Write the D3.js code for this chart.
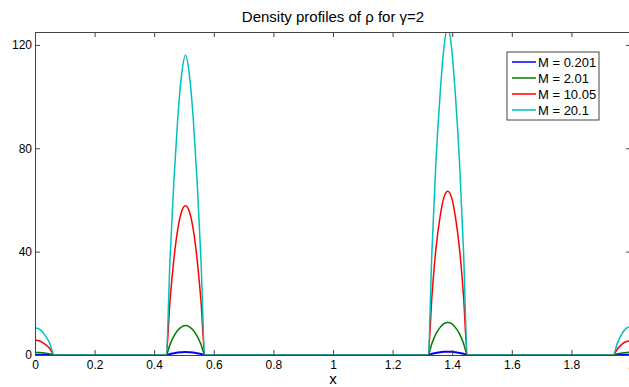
<!DOCTYPE html>
<html>
<head>
<meta charset="utf-8">
<script src="https://cdn.jsdelivr.net/npm/d3@7"></script>
<style>
  body { margin: 0; background: #fff; }
  svg { font-family: "Liberation Sans", Arial, Helvetica, sans-serif; }
</style>
</head>
<body>
<div id="vis"></div>
<script>

// sample positions along x (edge bump, two peaks, wrap-around bump)
var xs = [
  0, 0.016, 0.032, 0.048, 0.065,
  0.44, 0.453, 0.466, 0.479, 0.492, 0.505, 0.518, 0.531, 0.544, 0.557, 0.57,
  1.319, 1.332, 1.345, 1.359, 1.372, 1.385, 1.398, 1.411, 1.425, 1.438, 1.451,
  1.94, 1.955, 1.97, 1.985, 2.0
];

var rhoM0201 = [
  0.1, 0.1, 0.08, 0.05, 0,
  0, 0.4, 0.7, 1.0, 1.1, 1.15, 1.1, 1.0, 0.7, 0.4, 0,
  0, 0.5, 0.8, 1.1, 1.25, 1.3, 1.25, 1.1, 0.8, 0.5, 0,
  0, 0.05, 0.08, 0.1, 0.11
];
var rhoM201 = [
  1.1, 1.0, 0.8, 0.5, 0,
  0, 4.1, 7.3, 9.6, 10.9, 11.4, 10.9, 9.6, 7.3, 4.1, 0,
  0, 4.5, 8.1, 10.6, 12.1, 12.6, 12.1, 10.6, 8.1, 4.5, 0,
  0, 0.5, 0.8, 1.0, 1.1
];
var rhoM1005 = [
  5.8, 5.4, 4.3, 2.7, 0,
  0, 20.8, 37, 48.6, 55.5, 57.8, 55.5, 48.6, 37, 20.8, 0,
  0, 22.8, 40.6, 53.3, 60.9, 63.4, 60.9, 53.3, 40.6, 22.8, 0,
  0, 2.4, 4.2, 5.2, 5.5
];
var rhoM201b = [
  10.6, 9.9, 7.9, 4.9, 0,
  0, 36.7, 67.3, 91.5, 108.5, 116, 108.5, 91.5, 67.3, 36.7, 0,
  0, 40.1, 73.7, 100.2, 118.7, 127, 118.7, 100.2, 73.7, 40.1, 0,
  0, 4.8, 8.3, 10.4, 11.0
];

var seriesNames = ['M = 0.201', 'M = 2.01', 'M = 10.05', 'M = 20.1'];
var seriesValues = [rhoM0201, rhoM201, rhoM1005, rhoM201b];
var seriesColors = ['#0000ff', '#007f00', '#ff0000', '#00bfbf'];

var xTicks = [0, 0.2, 0.4, 0.6, 0.8, 1, 1.2, 1.4, 1.6, 1.8, 2];
var yTicks = [0, 40, 80, 120];

var width = 629;
var height = 387;
var margin = { top: 32, left: 35 };
var plotW = 596;
var plotH = 323;

var svg = d3.select('#vis')
  .append('svg')
  .attr('width', width)
  .attr('height', height);

var x = d3.scaleLinear().domain([0, 2]).range([0, plotW]);
var y = d3.scaleLinear().domain([0, 125]).range([plotH, 0]);

var g = svg.append('g')
  .attr('transform', 'translate(' + margin.left + ',' + margin.top + ')');

g.append('clipPath')
  .attr('id', 'clip')
  .append('rect')
  .attr('x', 0)
  .attr('y', 0)
  .attr('width', plotW)
  .attr('height', plotH);

var line = d3.line()
  .x(function (d) { return x(d[0]); })
  .y(function (d) { return y(d[1]); })
  .curve(d3.curveMonotoneX);

var lines = g.append('g').attr('clip-path', 'url(#clip)');

seriesValues.forEach(function (vals, i) {
  var pts = xs.map(function (xv, j) { return [xv, vals[j]]; });
  lines.append('path')
    .attr('d', line(pts))
    .attr('fill', 'none')
    .attr('stroke', seriesColors[i])
    .attr('stroke-width', i === 0 ? 2 : 1.5);
});

function styleAxis(sel) {
  sel.selectAll('path, line').attr('stroke', '#444');
  sel.selectAll('text').attr('fill', '#000').style('font-size', '12px');
}

g.append('g')
  .attr('transform', 'translate(0,' + plotH + ')')
  .call(d3.axisBottom(x).tickValues(xTicks).tickFormat(d3.format('')).tickSizeInner(-5).tickSizeOuter(0).tickPadding(5))
  .call(styleAxis);

g.append('g')
  .call(d3.axisTop(x).tickValues(xTicks).tickFormat('').tickSizeInner(-5).tickSizeOuter(0))
  .call(styleAxis);

g.append('g')
  .call(d3.axisLeft(y).tickValues(yTicks).tickSizeInner(-5).tickSizeOuter(0).tickPadding(3))
  .call(styleAxis);

g.append('g')
  .attr('transform', 'translate(' + plotW + ',0)')
  .call(d3.axisRight(y).tickValues(yTicks).tickFormat('').tickSizeInner(-5).tickSizeOuter(0))
  .call(styleAxis);

svg.append('text')
  .attr('x', margin.left + plotW / 2)
  .attr('y', 22)
  .attr('text-anchor', 'middle')
  .style('font-size', '15px')
  .text('Density profiles of \u03c1 for \u03b3=2');

svg.append('text')
  .attr('x', margin.left + plotW / 2)
  .attr('y', 384)
  .attr('text-anchor', 'middle')
  .style('font-size', '15px')
  .text('x');

// legend
var legend = svg.append('g').attr('transform', 'translate(507,52)');

legend.append('rect')
  .attr('width', 92)
  .attr('height', 68)
  .attr('fill', '#fff')
  .attr('stroke', '#444');

seriesNames.forEach(function (name, i) {
  var ly = 10 + i * 16;
  legend.append('line')
    .attr('x1', 5).attr('x2', 29)
    .attr('y1', ly).attr('y2', ly)
    .attr('stroke', seriesColors[i])
    .attr('stroke-width', 1.5);
  legend.append('text')
    .attr('x', 31)
    .attr('y', ly)
    .attr('dy', '0.35em')
    .style('font-size', '13px')
    .text(name);
});

</script>
</body>
</html>
